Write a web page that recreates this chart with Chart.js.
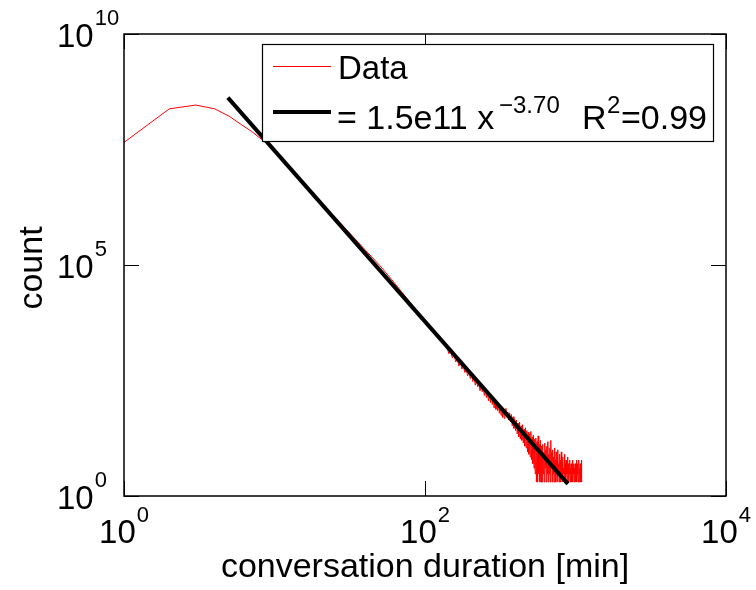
<!DOCTYPE html>
<html>
<head>
<meta charset="utf-8">
<script src="https://cdn.jsdelivr.net/npm/chart.js@4/dist/chart.umd.min.js"></script>
<style>
  html, body { margin: 0; padding: 0; background: #fff; }
  #wrap { width: 756px; height: 590px; }
</style>
</head>
<body>
<div id="wrap"><canvas id="durationChart" width="756" height="590"></canvas></div>
<script>
// conversation duration histogram (log-log)
const smoothMinutes = [1, 2, 3, 4, 5, 6, 7, 8, 9, 10, 12, 15, 20, 25, 30, 40, 50, 60, 70, 80, 100, 120, 135];
const smoothCounts = [4.5e7, 2.4e8, 2.9e8, 2.4e8, 1.66e8, 1.1e8, 7.9e7, 5.6e7, 4.2e7, 3.0e7, 1.52e7, 6.67e6,
    2.41e6, 1.11e6, 5.9e5, 2.13e5, 9.8e4, 4.86e4, 2.62e4, 1.53e4, 5970, 2900, 1860];

// noisy tail
const tailMinutes = [
    140, 144, 148, 152, 156, 160, 164, 168, 172, 176, 180, 184, 188, 192, 196, 200, 204, 208, 212, 216,
    220, 224, 228, 232, 236, 240, 244, 248, 252, 256, 260, 264, 268, 272, 276, 280, 284, 288, 292, 296,
    300, 304, 308, 312, 316, 320, 324, 328, 332, 336,
    340, 345, 350, 355, 360, 365, 370, 375, 380, 385, 390, 395, 400, 405, 410, 415, 420, 425, 430, 435,
    440, 445, 450, 455, 460, 465, 470, 475, 480, 485, 490, 495, 500, 505, 510, 515, 520, 525, 530, 535,
    540, 545, 550, 555, 560, 565, 570, 575, 580, 585, 590, 595,
    600, 605, 610, 615, 620, 625, 630, 635, 640, 645, 650, 655, 660, 665, 670, 675, 680, 685, 690, 695,
    700, 705, 710, 715, 720, 725, 730, 735, 740, 745, 750, 755, 760, 765, 770, 775, 780, 785, 790, 795,
    800, 805, 810, 815, 820, 825, 830, 835, 840, 845, 850, 855, 860, 865, 870, 875, 880, 885, 890, 895,
    900, 905, 910, 915, 920, 925, 930, 935, 940, 945, 950, 955, 960, 965, 970, 975, 980, 985, 990, 995,
    1000, 1005, 1010, 1015, 1020, 1025, 1030, 1035, 1040, 1045, 1050, 1055, 1060, 1065, 1070, 1075,
    1080, 1085, 1090, 1095, 1100
];
const tailCounts = [
    1670, 1200, 1360, 980, 1120, 800, 930, 650, 780, 560, 660, 470, 560, 400, 480, 350, 410, 300, 360, 250,
    315, 230, 275, 190, 240, 180, 215, 150, 190, 135, 175, 115, 160, 105, 145, 95, 130, 80, 120, 75,
    110, 70, 100, 62, 92, 56, 86, 50, 80, 48,
    58, 79, 51, 66, 44, 63, 40, 58, 33, 52, 29, 45, 26, 44, 22, 38, 19, 40, 17, 33,
    16, 35, 14, 28, 12, 30, 11, 26, 9, 24, 8, 22, 7, 25, 6, 19, 5, 21, 4, 17,
    3, 18, 2, 15, 2, 20, 3, 13, 2, 16, 2, 12,
    2, 13, 3, 9, 2, 14, 4, 10, 2, 12, 3, 15, 2, 8, 3, 11, 2, 16, 4, 9,
    2, 10, 3, 7, 2, 11, 4, 6, 2, 9, 3, 7, 2, 10, 3, 5, 2, 8, 4, 6,
    2, 9, 3, 5, 2, 7, 3, 4, 2, 8, 3, 5, 2, 6, 3, 4, 2, 7, 3, 5,
    2, 4, 3, 6, 2, 4, 3, 5, 2, 4, 3, 6, 2, 4, 3, 5, 2, 4, 3, 5,
    2, 4, 3, 6, 2, 4, 3, 5, 2, 4, 3, 6, 2, 4, 3, 5,
    2, 4, 3, 6, 2
];

// power-law fit end points: 1.5e11 x^-3.70
const fitMinutes = [4.9, 890];
const fitCounts = [4.2e8, 1.83];

const xTicks = [1, 100, 10000];
const xTickExp = ['0', '2', '4'];
const yTicks = [1, 1e5, 1e10];
const yTickExp = ['0', '5', '10'];

const FONT = '"Liberation Sans", Arial, Helvetica, sans-serif';

const allMinutes = smoothMinutes.concat(tailMinutes);
const allCounts = smoothCounts.concat(tailCounts);
const dataPoints = allMinutes.map((m, i) => ({ x: m, y: allCounts[i] }));
const fitPoints = fitMinutes.map((m, i) => ({ x: m, y: fitCounts[i] }));

function drawPow(ctx, base, exp, x, y, size, supSize, supRise, align) {
    ctx.font = size + 'px ' + FONT;
    const wb = ctx.measureText(base).width;
    ctx.font = supSize + 'px ' + FONT;
    const we = ctx.measureText(exp).width;
    let left = x;
    if (align === 'center') left = x - (wb + 1 + we) / 2;
    ctx.textAlign = 'left';
    ctx.textBaseline = 'alphabetic';
    ctx.font = size + 'px ' + FONT;
    ctx.fillText(base, left, y);
    ctx.font = supSize + 'px ' + FONT;
    ctx.fillText(exp, left + wb + 1, y - supRise);
}

const matlabAxes = {
    id: 'matlabAxes',
    afterDraw(chart) {
        const ctx = chart.ctx;
        const a = chart.chartArea;
        const xs = chart.scales.x;
        const ys = chart.scales.y;
        const tickLen = 15;
        ctx.save();
        ctx.fillStyle = '#000';
        ctx.strokeStyle = '#000';

        // ticks
        ctx.lineWidth = 1;
        ctx.beginPath();
        xTicks.forEach(v => {
            const px = Math.round(xs.getPixelForValue(v)) + 0.5;
            ctx.moveTo(px, a.bottom); ctx.lineTo(px, a.bottom - tickLen);
            ctx.moveTo(px, a.top); ctx.lineTo(px, a.top + tickLen);
        });
        yTicks.forEach(v => {
            const py = Math.round(ys.getPixelForValue(v)) + 0.5;
            ctx.moveTo(a.left, py); ctx.lineTo(a.left + tickLen, py);
            ctx.moveTo(a.right, py); ctx.lineTo(a.right - tickLen, py);
        });
        ctx.stroke();

        // tick labels
        xTicks.forEach((v, i) => {
            drawPow(ctx, '10', xTickExp[i], xs.getPixelForValue(v), a.bottom + 47, 33, 22, 21, 'center');
        });
        yTicks.forEach((v, i) => {
            drawPow(ctx, '10', yTickExp[i], 57, ys.getPixelForValue(v) + 13, 33, 22, 22, 'left');
        });

        // axis titles
        ctx.font = '34px ' + FONT;
        ctx.textAlign = 'center';
        ctx.textBaseline = 'alphabetic';
        ctx.fillText('conversation duration [min]', (a.left + a.right) / 2, 577);
        ctx.save();
        ctx.translate(42, (a.top + a.bottom) / 2 + 3);
        ctx.rotate(-Math.PI / 2);
        ctx.fillText('count', 0, 0);
        ctx.restore();

        // legend
        ctx.fillStyle = '#fff';
        ctx.fillRect(262.5, 44.5, 451, 97);
        ctx.lineWidth = 1.2;
        ctx.strokeRect(262.5, 44.5, 451, 97);
        ctx.strokeStyle = '#ff0000';
        ctx.lineWidth = 1;
        ctx.beginPath(); ctx.moveTo(273, 66.5); ctx.lineTo(331, 66.5); ctx.stroke();
        ctx.strokeStyle = '#000';
        ctx.lineWidth = 4;
        ctx.beginPath(); ctx.moveTo(273, 112); ctx.lineTo(331, 112); ctx.stroke();
        ctx.fillStyle = '#000';
        ctx.textAlign = 'left';
        ctx.font = '33px ' + FONT;
        ctx.fillText('Data', 338, 79);
        ctx.font = '34px ' + FONT;
        ctx.fillText('= 1.5e11 x', 337, 129);
        ctx.fillText('R', 582, 129);
        ctx.fillText('=0.99', 621, 129);
        ctx.font = '24px ' + FONT;
        ctx.fillText('\u22123.70', 499, 113);
        ctx.fillText('2', 607, 113);

        // axes box
        ctx.lineWidth = 1.5;
        ctx.strokeRect(a.left, a.top, a.right - a.left, a.bottom - a.top);
        ctx.restore();
    }
};

const chart = new Chart(document.getElementById('durationChart').getContext('2d'), {
    type: 'scatter',
    data: {
        datasets: [{
            label: 'Data',
            data: dataPoints,
            showLine: true,
            borderColor: '#ff0000',
            borderWidth: 1,
            pointRadius: 0,
            tension: 0,
            order: 2
        }, {
            label: 'fit',
            data: fitPoints,
            showLine: true,
            borderColor: '#000000',
            borderWidth: 4,
            pointRadius: 0,
            order: 1
        }]
    },
    options: {
        responsive: false,
        devicePixelRatio: 1,
        animation: false,
        layout: { padding: { left: 124, right: 30, top: 34, bottom: 94 } },
        plugins: { legend: { display: false }, tooltip: { enabled: false } },
        scales: {
            x: { type: 'logarithmic', min: 1, max: 10000, display: false },
            y: { type: 'logarithmic', min: 1, max: 1e10, display: false }
        }
    },
    plugins: [matlabAxes]
});
</script>
</body>
</html>
